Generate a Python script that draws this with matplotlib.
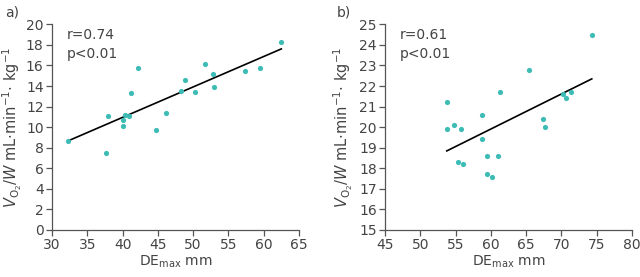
import numpy as np
import matplotlib
matplotlib.use("Agg")
from matplotlib import pyplot as plt

# panel a
de_a = [32.3, 37.7, 38.0, 40.0, 40.1, 40.4, 40.9, 41.2, 42.2, 44.8,
        46.2, 48.3, 48.8, 50.2, 51.7, 52.8, 53.0, 57.4, 59.5, 62.5]
vo_a = [8.7, 7.5, 11.1, 10.1, 10.7, 11.2, 11.1, 13.3, 15.8, 9.7,
        11.4, 13.5, 14.6, 13.4, 16.1, 15.2, 13.9, 15.5, 15.8, 18.3]

# panel b
de_b = [53.75, 53.75, 54.8, 55.8, 55.4, 56.0, 58.7, 58.7, 59.5, 59.5,
        60.2, 60.95, 61.3, 65.4, 67.4, 67.7, 70.2, 70.6, 71.3, 74.3]
vo_b = [21.2, 19.9, 20.1, 19.9, 18.3, 18.2, 20.6, 19.4, 18.6, 17.7,
        17.6, 18.6, 21.7, 22.8, 20.4, 20.0, 21.6, 21.4, 21.7, 24.5]

stats = ["r=0.74\np<0.01", "r=0.61\np<0.01"]
panel_tags = ["a)", "b)"]

grey = '#555555'
txt = '#444444'
teal = '#3dbcb5'
plt.rcParams['font.family'] = ['Liberation Sans Narrow', 'DejaVu Sans']
plt.rcParams['font.size'] = 10

fig = plt.figure(figsize=(6.4, 2.77), dpi=100)
ax1 = fig.add_axes([0.08125, 0.1697, 0.3859, 0.7425])
ax2 = fig.add_axes([0.6016, 0.1697, 0.3859, 0.7425])

setups = [
    (ax1, de_a, vo_a, (30, 65), (0, 20), np.arange(0, 21, 2), -0.16),
    (ax2, de_b, vo_b, (45, 80), (15, 25), np.arange(15, 26, 1), -0.17),
]

for i, (ax, x, y, xl, yl, yt, lx) in enumerate(setups):
    ax.scatter(x, y, s=14, color=teal, zorder=3, linewidths=0)
    k, b = np.polyfit(x, y, 1)
    xs = np.array([min(x), max(x)])
    ax.plot(xs, k * xs + b, color='black', lw=1.2, zorder=2)
    ax.set_xlim(*xl)
    ax.set_ylim(*yl)
    ax.set_xticks(np.arange(xl[0], xl[1] + 1, 5))
    ax.set_yticks(yt)
    for s in ['top', 'right']:
        ax.spines[s].set_visible(False)
    for s in ['left', 'bottom']:
        ax.spines[s].set_color(grey)
        ax.spines[s].set_linewidth(0.9)
    ax.tick_params(colors=grey, labelcolor=txt, length=4, width=0.9,
                   labelsize=10, pad=2)
    ax.set_xlabel(r'DE$_{\mathrm{max}}$ mm', color=txt, fontsize=10, labelpad=1)
    ax.set_ylabel(r'$\mathit{V}_{\mathrm{O}_2}$/$\mathit{W}$ mL$\cdot$min$^{-1}$$\cdot$ kg$^{-1}$',
                  color=txt, fontsize=10.5, va='center')
    ax.yaxis.set_label_coords(lx, 0.5)
    ax.text(0.06, 0.98, stats[i], transform=ax.transAxes, va='top', ha='left',
            color=txt, fontsize=10, linespacing=1.45)

fig.text(5 / 640, 1 - 12 / 277, panel_tags[0], color=txt, fontsize=10, va='center')
fig.text(337 / 640, 1 - 12 / 277, panel_tags[1], color=txt, fontsize=10, va='center')

fig.savefig('out.png', dpi=100)
